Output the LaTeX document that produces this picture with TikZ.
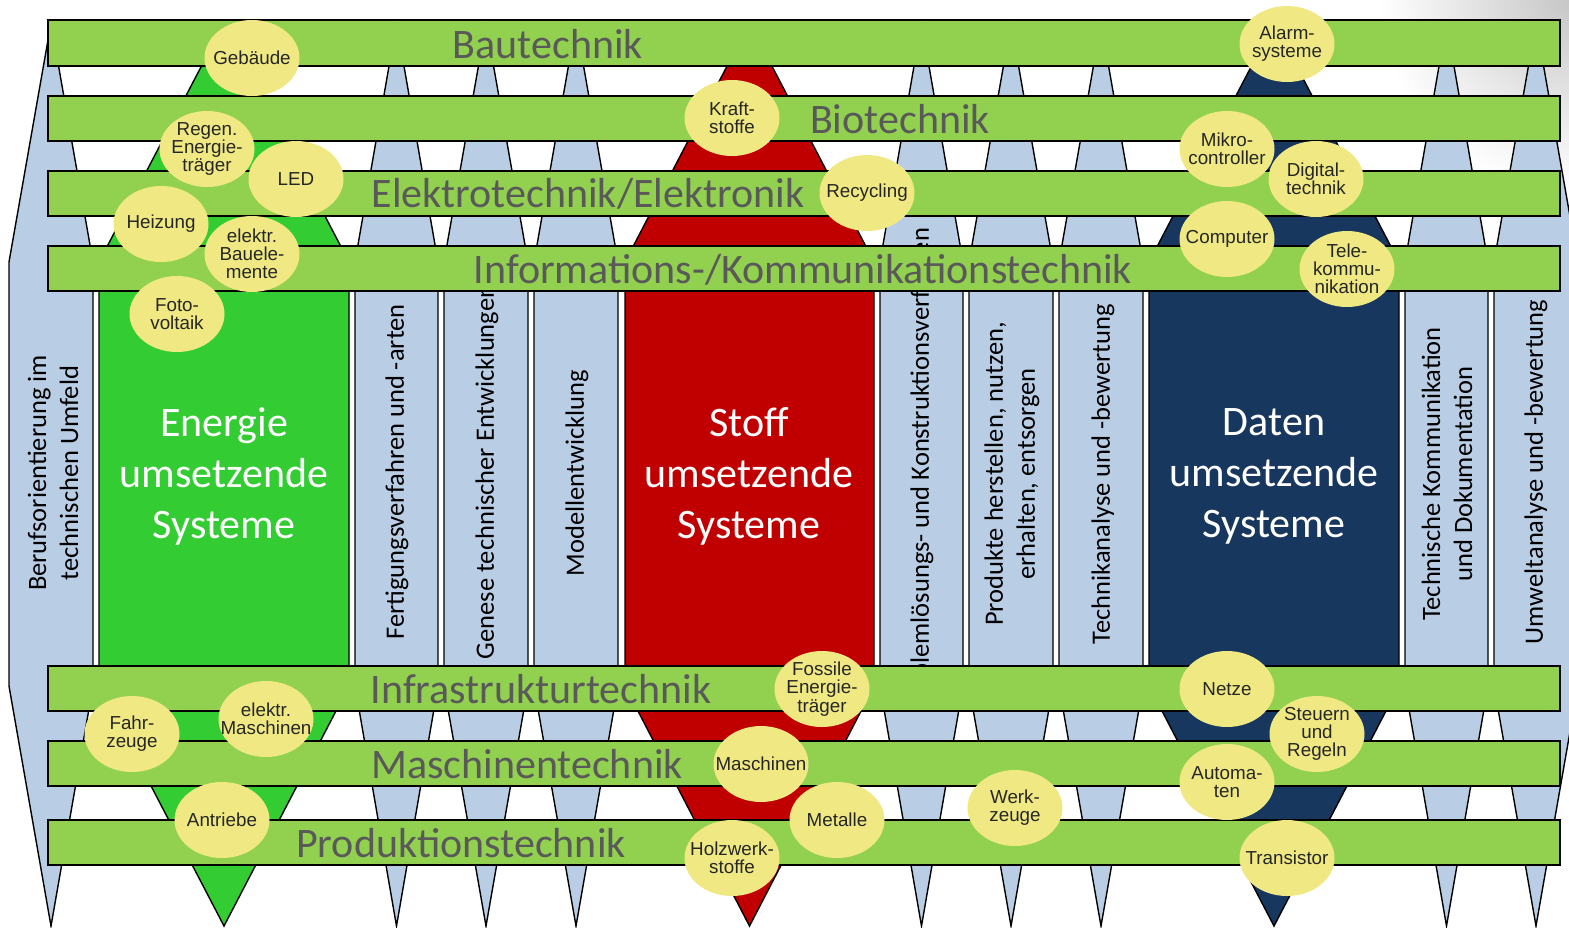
\documentclass[tikz,border=0pt]{standalone}
\usepackage{fontspec}
\setmainfont{Carlito}
\newfontfamily\ellfont{Liberation Sans}
\usetikzlibrary{shapes.geometric}
\definecolor{colblue}{HTML}{B9CDE5}
\definecolor{colgreen}{HTML}{33CC33}
\definecolor{colred}{HTML}{C00000}
\definecolor{colnavy}{HTML}{17375E}
\definecolor{barfill}{HTML}{92D050}
\definecolor{bartext}{HTML}{595959}
\definecolor{ellfill}{HTML}{F0E983}
\definecolor{elltext}{HTML}{262626}
% pencil-shaped column: fill colour, left edge, right edge
\newcommand{\pencilcol}[3]{%
  \draw[colline,fill=#1] ({(#2+#3)/2},23) -- (#3,262) -- (#3,686)
    -- ({(#2+#3)/2},926) -- (#2,686) -- (#2,262) -- cycle;}
% topic bubble of fixed size with its caption on top: name, position, text
\newcommand{\topicnode}[3]{%
  \node[topic] (#1) at (#2) {};
  \node[topictext] (#1-t) at (#1.center) {#3};}
\begin{document}
\begin{tikzpicture}[x=0.5pt,y=-0.5pt,
  colline/.style={draw=black,line width=0.7pt,line join=miter},
  bar/.style={draw=black,line width=1pt,fill=barfill},
  barlabel/.style={font=\fontsize{21}{25}\selectfont,text=bartext,anchor=base,inner sep=0pt},
  collabel/.style={font=\fontsize{13.25}{16}\selectfont,rotate=90,align=center,inner sep=0pt},
  biglabel/.style={font=\fontsize{21}{25.5}\selectfont,text=white,align=center,inner sep=0pt},
  topic/.style={ellipse,fill=ellfill,minimum width=47.5pt,minimum height=38pt,inner sep=0pt},
  topictext/.style={inner sep=0pt,align=center,font=\ellfont\fontsize{9.4}{9.1}\selectfont,text=elltext}
]
\useasboundingbox (0,0) rectangle (1569,927);
\clip (0,0) rectangle (1569,927);

% soft shadow in the upper right corner
\shade[inner color=black!22, outer color=white] (1569,0) circle (190);

% columns
\pencilcol{colblue}{9}{93}
\pencilcol{colgreen}{99}{349}
\pencilcol{colblue}{355}{438}
\pencilcol{colblue}{444}{528}
\pencilcol{colblue}{534}{618}
\pencilcol{colred}{625}{874}
\pencilcol{colblue}{880}{963}
\pencilcol{colblue}{969}{1053}
\pencilcol{colblue}{1059}{1143}
\pencilcol{colnavy}{1149}{1399}
\pencilcol{colblue}{1405}{1488}
\pencilcol{colblue}{1494}{1578}

% column labels
\node[collabel] (c1) at (53,473) {Berufsorientierung im\\technischen Umfeld};
\node[collabel] (c3) at (397,472) {Fertigungsverfahren und -arten};
\node[collabel] (c4) at (487,472) {Genese technischer Entwicklungen};
\node[collabel] (c5) at (577,473) {Modellentwicklung};
\node[collabel] (c7) at (922,471) {Problemlösungs- und Konstruktionsverfahren};
\node[collabel] (c8) at (1012,474) {Produkte herstellen, nutzen,\\erhalten, entsorgen};
\node[collabel] (c9) at (1103,474) {Technikanalyse und -bewertung};
\node[collabel] (c11) at (1447,474) {Technische Kommunikation\\und Dokumentation};
\node[collabel] (c12) at (1536,472) {Umweltanalyse und -bewertung};

\node[biglabel] (energie) at (224,476) {Energie\\umsetzende\\Systeme};
\node[biglabel] (stoff) at (749,476) {Stoff\\umsetzende\\Systeme};
\node[biglabel] (daten) at (1274,476) {Daten\\umsetzende\\Systeme};

% horizontal bars
\draw[bar] (48,20) rectangle (1560,66);
\draw[bar] (48,95.5) rectangle (1560,140.5);
\draw[bar] (48,170.5) rectangle (1560,216);
\draw[bar] (48,246) rectangle (1560,291);
\draw[bar] (48,666) rectangle (1560,711);
\draw[bar] (48,741) rectangle (1560,786);
\draw[bar] (48,820) rectangle (1560,865);

\node[barlabel] (bau) at (548,58) {Bautechnik};
\node[barlabel] (bio) at (900,133) {Biotechnik};
\node[barlabel] (elt) at (588,207.5) {Elektrotechnik/Elektronik};
\node[barlabel] (ikt) at (803,283) {Informations-/Kommunikationstechnik};
\node[barlabel] (inf) at (541,703) {Infrastrukturtechnik};
\node[barlabel] (mas) at (527,778) {Maschinentechnik};
\node[barlabel] (pro) at (461,857) {Produktionstechnik};

% topic bubbles
\topicnode{gebaeude}{252,58}{Gebäude}
\topicnode{alarm}{1287,44}{Alarm-\\systeme}
\topicnode{kraft}{732,118}{Kraft-\\stoffe}
\topicnode{regen}{207,149}{Regen.\\Energie-\\träger}
\topicnode{led}{296,179}{LED}
\topicnode{heizung}{161,224}{Heizung}
\topicnode{bauel}{252,254}{elektr.\\Bauele-\\mente}
\topicnode{foto}{177,314}{Foto-\\voltaik}
\topicnode{recyc}{867,193}{Recycling}
\topicnode{mikro}{1227,149}{Mikro-\\controller}
\topicnode{digital}{1316,179}{Digital-\\technik}
\topicnode{computer}{1227,239}{Computer}
\topicnode{tele}{1347,269}{Tele-\\kommu-\\nikation}
\topicnode{fossil}{822,689}{Fossile\\Energie-\\träger}
\topicnode{maschinen}{761,764}{Maschinen}
\topicnode{metalle}{837,820}{Metalle}
\topicnode{holz}{732,858}{Holzwerk-\\stoffe}
\topicnode{werkzeuge}{1015,808}{Werk-\\zeuge}
\topicnode{netze}{1227,689}{Netze}
\topicnode{steuern}{1317,734}{Steuern\\und\\Regeln}
\topicnode{automaten}{1227,782}{Automa-\\ten}
\topicnode{transistor}{1287,858}{Transistor}
\topicnode{fahrzeuge}{132,734}{Fahr-\\zeuge}
\topicnode{emasch}{266,719}{elektr.\\Maschinen}
\topicnode{antriebe}{222,820}{Antriebe}
\end{tikzpicture}
\end{document}
